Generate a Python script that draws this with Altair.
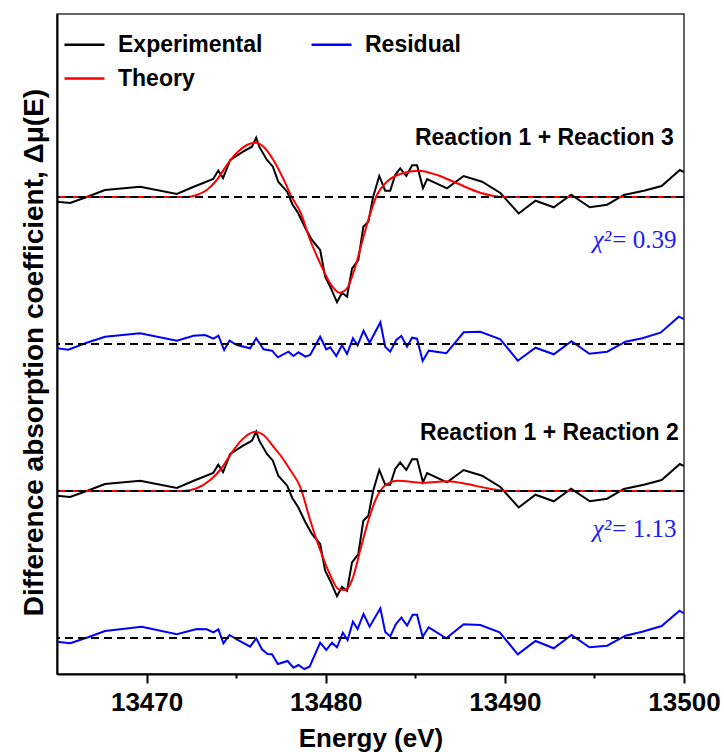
import altair as alt
import pandas as pd

# ---------------- data (arbitrary units) ----------------
exp_energy = [13465.0, 13465.73, 13466.66, 13467.68, 13469.64, 13471.69, 13472.60, 13473.72, 13474.00, 13474.27,
              13474.67, 13475.39, 13475.88, 13476.12, 13476.29, 13476.72, 13477.05, 13477.35, 13477.85, 13478.13,
              13478.46, 13478.86, 13479.23, 13479.69, 13479.97, 13480.25, 13480.63, 13480.91, 13481.19, 13481.47,
              13481.82, 13482.10, 13482.38, 13482.65, 13482.99, 13483.32, 13483.60, 13483.88, 13484.16, 13484.50,
              13484.82, 13485.10, 13485.43, 13485.66, 13486.77, 13487.70, 13488.73, 13489.75, 13490.77, 13491.71,
              13492.73, 13493.70, 13494.74, 13495.71, 13496.64, 13497.76, 13498.75, 13499.77, 13500.0]
exp_mu = [-0.047, -0.06, 0.0, 0.07, 0.103, 0.03, 0.10, 0.18, 0.263, 0.19,
          0.37, 0.453, 0.503, 0.593, 0.503, 0.37, 0.303, 0.153, 0.053, -0.07,
          -0.16, -0.31, -0.43, -0.53, -0.797, -0.897, -1.053, -0.957, -0.997, -0.713,
          -0.63, -0.297, -0.247, 0.003, 0.21, 0.063, 0.063, 0.22, 0.287, 0.21,
          0.317, 0.317, 0.087, 0.18, 0.087, 0.21, 0.153, 0.04, -0.165, -0.037,
          -0.103, 0.023, -0.103, -0.077, 0.02, 0.063, 0.11, 0.27, 0.25]

theo3_energy = [13465.0, 13472.25, 13472.80, 13473.36, 13473.92, 13474.48, 13475.04, 13475.60, 13476.06, 13476.53,
                13477.08, 13477.64, 13478.10, 13478.58, 13479.13, 13479.69, 13480.25, 13480.77, 13481.19, 13481.65,
                13482.11, 13482.49, 13482.86, 13483.42, 13484.16, 13485.19, 13486.21, 13487.33, 13488.63, 13489.94,
                13500.0]
theo3_mu = [0.0, 0.0, 0.02, 0.07, 0.17, 0.32, 0.443, 0.52, 0.543, 0.503,
            0.37, 0.18, 0.0, -0.15, -0.43, -0.663, -0.863, -0.957, -0.913, -0.697,
            -0.397, -0.163, 0.02, 0.153, 0.23, 0.263, 0.22, 0.137, 0.043, 0.0,
            0.0]

res3_energy = [13465.0, 13465.63, 13466.66, 13467.68, 13469.64, 13471.69, 13472.62, 13473.27, 13473.73, 13474.01,
               13474.33, 13474.63, 13475.04, 13475.78, 13476.12, 13476.53, 13477.0, 13477.33, 13477.92, 13478.20,
               13478.48, 13478.86, 13479.13, 13479.69, 13480.03, 13480.25, 13480.59, 13480.91, 13481.19, 13481.52,
               13481.78, 13482.11, 13482.45, 13483.05, 13483.32, 13483.60, 13483.94, 13484.22, 13484.54, 13484.82,
               13485.10, 13485.41, 13485.75, 13486.73, 13487.70, 13488.63, 13489.75, 13490.72, 13491.71, 13492.73,
               13493.72, 13494.72, 13495.71, 13496.73, 13497.67, 13498.69, 13499.71, 13500.0]
res3_mu = [-0.043, -0.057, 0.013, 0.073, 0.107, 0.033, 0.083, 0.09, 0.053, 0.083,
           -0.06, 0.033, -0.01, -0.043, 0.057, -0.053, -0.067, -0.133, -0.077, -0.12,
           -0.083, -0.127, -0.11, 0.073, -0.053, -0.033, -0.12, -0.01, -0.10, 0.057,
           -0.013, 0.133, 0.013, 0.218, -0.027, -0.077, 0.04, 0.08, -0.027, 0.063,
           0.053, -0.17, -0.067, -0.093, 0.117, 0.123, 0.047, -0.167, -0.037, -0.103,
           0.027, -0.097, -0.077, 0.023, 0.057, 0.113, 0.273, 0.25]

theo2_energy = [13465.0, 13472.04, 13472.80, 13473.55, 13474.11, 13474.67, 13475.22, 13475.78, 13476.06, 13476.53,
                13477.08, 13477.46, 13478.02, 13478.58, 13479.13, 13479.69, 13480.25, 13480.72, 13481.09, 13481.47,
                13481.93, 13482.39, 13482.86, 13483.42, 13483.98, 13485.47, 13486.77, 13487.89, 13489.01, 13490.13,
                13500.0]
theo2_mu = [0.0, 0.0, 0.027, 0.11, 0.21, 0.36, 0.493, 0.577, 0.593, 0.56,
            0.443, 0.36, 0.21, 0.04, -0.29, -0.59, -0.84, -0.983, -0.99, -0.89,
            -0.59, -0.29, -0.057, 0.07, 0.103, 0.083, 0.097, 0.07, 0.027, 0.0,
            0.0]

res2_energy = [13465.0, 13465.73, 13466.66, 13467.68, 13469.73, 13471.69, 13472.80, 13473.36, 13473.73, 13474.01,
               13474.29, 13474.63, 13475.04, 13475.78, 13476.12, 13476.44, 13476.75, 13477.0, 13477.33, 13477.87,
               13478.20, 13478.48, 13478.80, 13479.10, 13479.69, 13480.03, 13480.35, 13480.63, 13480.96, 13481.22,
               13481.52, 13481.78, 13482.11, 13482.45, 13483.05, 13483.32, 13483.60, 13483.92, 13484.22, 13484.54,
               13484.85, 13485.10, 13485.41, 13485.75, 13486.73, 13487.70, 13488.63, 13489.71, 13490.72, 13491.71,
               13492.73, 13493.72, 13494.72, 13495.71, 13496.73, 13497.67, 13498.75, 13499.75, 13500.0]
res2_mu = [-0.037, -0.053, 0.003, 0.07, 0.113, 0.037, 0.09, 0.087, 0.057, 0.087,
           -0.053, 0.03, -0.013, -0.087, -0.003, -0.113, -0.16, -0.163, -0.26, -0.23,
           -0.297, -0.27, -0.31, -0.287, -0.047, -0.12, -0.047, -0.093, 0.053, -0.02,
           0.163, 0.09, 0.24, 0.113, 0.297, 0.06, 0.017, 0.14, 0.203, 0.123,
           0.233, 0.233, 0.013, 0.107, -0.003, 0.137, 0.13, 0.057, -0.163, -0.03,
           -0.103, 0.03, -0.093, -0.077, 0.023, 0.063, 0.12, 0.273, 0.247]

# vertical offsets of the stacked curves (top fit, its residual, bottom fit, its residual)
stack_offsets = [0.0, -1.47, -2.94, -4.41]

# annotations
ann_text = ["Reaction 1 + Reaction 3", "Reaction 1 + Reaction 2"]
ann_energy = [13499.43, 13499.71]
ann_value = [0.52, -2.43]
chi_value_text = ["= 0.39", "= 1.13"]
chi_energy = [13496.0, 13496.0]
chi_value = [-0.51, -3.40]

# ---------------- build table ----------------
rows = []


def add(E, mu, off, series, curve):
    for e, m in zip(E, mu):
        rows.append({"energy": e, "value": m + off, "series": series, "curve": curve})


add(exp_energy, exp_mu, stack_offsets[0], "Experimental", "exp_top")
add(res3_energy, res3_mu, stack_offsets[1], "Residual", "res_top")
add(exp_energy, exp_mu, stack_offsets[2], "Experimental", "exp_bot")
add(res2_energy, res2_mu, stack_offsets[3], "Residual", "res_bot")
add(theo3_energy, theo3_mu, stack_offsets[0], "Theory", "theo_top")
add(theo2_energy, theo2_mu, stack_offsets[2], "Theory", "theo_bot")
df = pd.DataFrame(rows)

base_df = pd.DataFrame({"offset": stack_offsets})
ann_df = pd.DataFrame({"text": ann_text, "energy": ann_energy, "value": ann_value})
chi_df = pd.DataFrame({"text": chi_value_text, "energy": chi_energy, "value": chi_value})

FONT = "Liberation Sans"
x_scale = alt.Scale(domain=[13465, 13500], nice=False, zero=False)
y_scale = alt.Scale(domain=[-4.77, 1.83], nice=False, zero=False)
color_scale = alt.Scale(domain=["Experimental", "Theory", "Residual"], range=["#000000", "#ff0000", "#0000ff"])

x_axis = alt.Axis(
    title="Energy (eV)",
    values=[13470, 13475, 13480, 13485, 13490, 13495, 13500],
    labelExpr="datum.value % 10 === 0 ? datum.label : ''",
    format="d",
    tickSize={"condition": {"test": "datum.value % 10 === 0", "value": 9}, "value": 4},
    tickWidth=2, tickColor="black", domainColor="black", domainWidth=2,
    labelFont=FONT, labelFontSize=26, labelFontWeight="bold", labelColor="black",
    labelPadding=6, labelFlush=False, labelOverlap=False, labelBound=False,
    titleFont=FONT, titleFontSize=26, titleFontWeight="bold", titleColor="black", titlePadding=10,
    grid=False,
)
y_axis = alt.Axis(
    title="Difference absorption coefficient, Δμ(E)",
    ticks=False, labels=False, grid=False, domainColor="black", domainWidth=2,
    titleFont=FONT, titleFontSize=28, titleFontWeight="bold", titleColor="black", titlePadding=9,
    titleY=338,
)

lines = alt.Chart(df).transform_filter(alt.datum.series != "Theory").mark_line(
    strokeWidth=2, clip=True
).encode(
    x=alt.X("energy:Q", scale=x_scale, axis=x_axis),
    y=alt.Y("value:Q", scale=y_scale, axis=y_axis),
    color=alt.Color("series:N", scale=color_scale, legend=alt.Legend(
        title=None, orient="none", legendX=6, legendY=9, columns=2,
        symbolType="stroke", symbolSize=1600, symbolStrokeWidth=2.5,
        labelFont=FONT, labelFontSize=23, labelFontWeight="bold", labelColor="black",
        labelOffset=12, labelLimit=400, columnPadding=43, rowPadding=-7, padding=0,
    )),
    detail="curve:N",
    order=alt.Order("energy:Q"),
)

theory = alt.Chart(df).transform_filter(alt.datum.series == "Theory").mark_line(
    strokeWidth=2, clip=True, interpolate="monotone"
).encode(
    x=alt.X("energy:Q", scale=x_scale),
    y=alt.Y("value:Q", scale=y_scale),
    color=alt.Color("series:N", scale=color_scale),
    detail="curve:N",
    order=alt.Order("energy:Q"),
)

baselines = alt.Chart(base_df).mark_rule(
    color="black", strokeWidth=2, strokeDash=[8, 5]
).encode(y=alt.Y("offset:Q", scale=y_scale))

ann = alt.Chart(ann_df).mark_text(
    align="right", baseline="alphabetic", font=FONT, fontSize=23, fontWeight="bold", color="black"
).encode(x=alt.X("energy:Q", scale=x_scale), y=alt.Y("value:Q", scale=y_scale), text="text:N")

chi_sym = alt.Chart(chi_df).mark_text(
    align="right", baseline="alphabetic", font="Liberation Serif", fontSize=25, fontStyle="italic",
    color="#1a1aff", dx=-1
).encode(x=alt.X("energy:Q", scale=x_scale), y=alt.Y("value:Q", scale=y_scale), text=alt.value("χ²"))

chi_num = alt.Chart(chi_df).mark_text(
    align="left", baseline="alphabetic", font="Liberation Serif", fontSize=25, color="#1a1aff"
).encode(x=alt.X("energy:Q", scale=x_scale), y=alt.Y("value:Q", scale=y_scale), text="text:N")

chart = alt.layer(lines, theory, baselines, ann, chi_sym, chi_num).properties(
    width=627, height=660,
    autosize=alt.AutoSizeParams(type="none"),
    padding={"left": 57, "top": 14, "right": 40, "bottom": 81},
    background="white",
).configure_view(stroke="#333333", strokeWidth=1.5)

chart.save("out.html", embed_options={"renderer": "svg", "actions": False})
